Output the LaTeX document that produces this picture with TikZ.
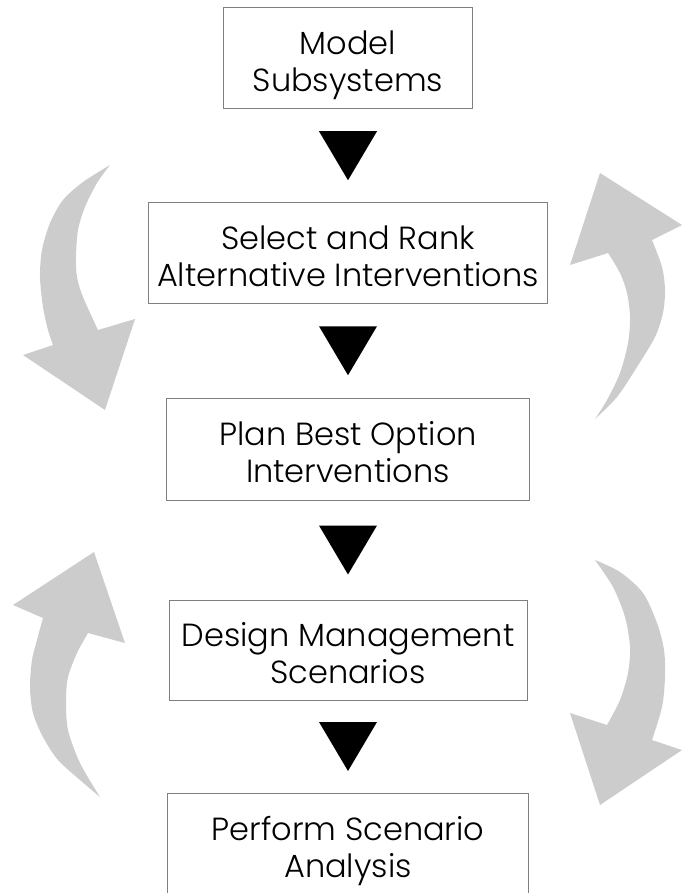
\documentclass[tikz,border=0pt]{standalone}
\usepackage{fontspec}
\setmainfont{Poppins}[UprightFont={* Light}]
\usetikzlibrary{calc}

\definecolor{arrowgray}{HTML}{CCCCCC}
\definecolor{boxgray}{HTML}{7F7F7F}
\tikzset{
    stepbox/.style={draw=boxgray,line width=1pt,align=center,inner sep=0pt,
        text height=67pt,text depth=0pt,font=\boxfontsize},
    sweep/.style={fill=arrowgray},
    downtri/.style={fill=black}
}

\begin{document}
\begin{tikzpicture}[x=1pt,y=-1pt]
    \pgfmathsetmacro{\midx}{348}
    \pgfmathsetmacro{\boxheight}{101}
    \pgfmathsetmacro{\triwidth}{58}
    \pgfmathsetmacro{\triheight}{49}
    \providecommand{\boxfontsize}{\fontsize{32}{37}\selectfont}
    \useasboundingbox (0,0) rectangle (682,893);
    \clip (0,0) rectangle (682,893);
    \node[stepbox,minimum width=249pt,minimum height=\boxheight pt] (model) at (\midx,58.5) {Model\\Subsystems};
    \node[stepbox,minimum width=399pt,minimum height=\boxheight pt] (select) at (\midx,253) {Select and Rank\\Alternative Interventions};
    \node[stepbox,minimum width=363pt,minimum height=102pt] (plan) at (\midx,449) {Plan Best Option\\Interventions};
    \node[stepbox,minimum width=358pt,minimum height=100pt] (design) at (\midx,650) {Design Management\\Scenarios};
    \node[stepbox,minimum width=361pt,minimum height=\boxheight pt] (perform) at (\midx,843.5) {Perform Scenario\\Analysis};
    \foreach \a/\b in {model/select,select/plan,plan/design,design/perform}
        \fill[downtri] ($(\a.south)!0.5!(\b.north)$) ++(-\triwidth/2,-\triheight/2) -- ++(\triwidth,0) -- ++(-\triwidth/2,\triheight) -- cycle;
    % left, going down
    \fill[sweep] plot[smooth] coordinates {(110,165) (83,182) (63,200) (50,223) (42,250) (40,277) (43,307) (48,330) (53,345)}
        -- (23,355) -- (105,410) -- (135,319) -- (98,330)
        -- plot[smooth] coordinates {(98,330) (83,297) (77,277) (76,257) (78,230) (85,207) (97,183) (110,165)} -- cycle;
    % right, going up
    \fill[sweep] plot[smooth] coordinates {(595,419) (617,397) (637,367) (655,337) (663,313) (665,290) (662,267) (652,240)}
        -- (682,225) -- (600,173) -- (570,265) -- (608,253)
        -- plot[smooth] coordinates {(608,253) (620,273) (627,293) (630,317) (628,343) (620,373) (607,400) (595,419)} -- cycle;
    % left, going up
    \fill[sweep] plot[smooth] coordinates {(100,797) (80,780) (58,760) (43,737) (33,713) (30,687) (32,660) (37,640) (43,618)}
        -- (13,605) -- (94,552) -- (125,643) -- (88,633)
        -- plot[smooth] coordinates {(88,633) (77,653) (68,677) (66,700) (68,730) (80,763) (100,797)} -- cycle;
    % right, going down
    \fill[sweep] plot[smooth] coordinates {(595,560) (620,572) (643,593) (657,623) (664,650) (665,677) (662,707) (652,740)}
        -- (682,750) -- (600,805) -- (570,713) -- (607,725)
        -- plot[smooth] coordinates {(607,725) (620,700) (628,673) (630,647) (625,617) (613,587) (595,560)} -- cycle;
\end{tikzpicture}
\end{document}
